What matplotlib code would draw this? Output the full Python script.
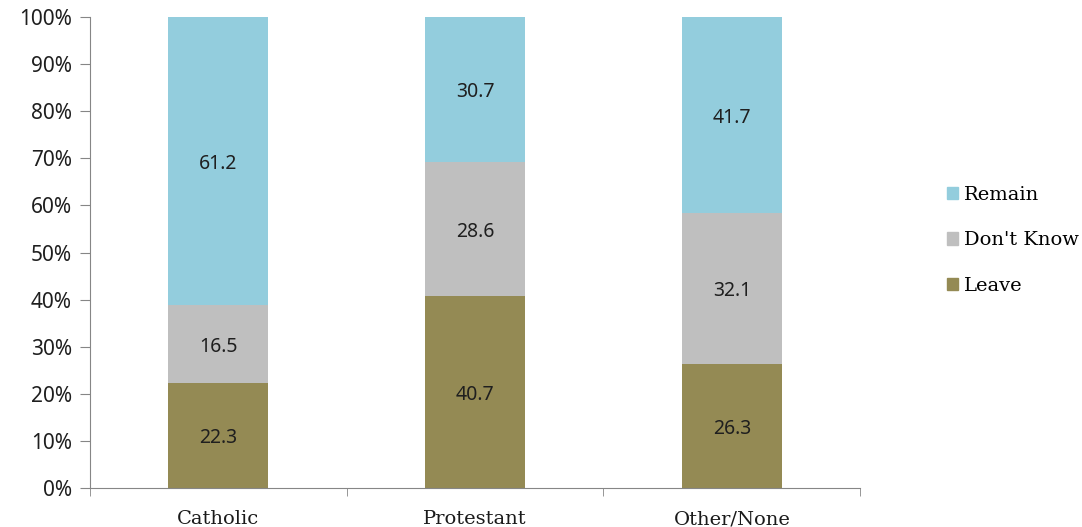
import matplotlib
matplotlib.use("Agg")
import matplotlib.pyplot as plt
from matplotlib.patches import Patch
import numpy as np

categories = ["Catholic", "Protestant", "Other/None"]
leave = [22.3, 40.7, 26.3]
dont_know = [16.5, 28.6, 32.1]
remain = [61.2, 30.7, 41.7]
yticks = [0, 10, 20, 30, 40, 50, 60, 70, 80, 90, 100]

colors = {"Leave": "#948A54", "Don't Know": "#BFBFBF", "Remain": "#93CDDD"}
spine_color = "#868686"
sans = "Noto Sans"

fig = plt.figure(figsize=(10.82, 5.27), dpi=100)
ax = fig.add_axes([0.0832, 0.074, 0.7118, 0.8937])

x = np.arange(len(categories))
bottom = np.zeros(len(categories))
for name, vals in [("Leave", leave), ("Don't Know", dont_know), ("Remain", remain)]:
    vals = np.array(vals)
    # clip so stacks end at 100%
    heights = np.minimum(vals, 100 - bottom)
    ax.bar(x, heights, width=0.39, bottom=bottom, color=colors[name], linewidth=0)
    for xi, b, h, v in zip(x, bottom, heights, vals):
        ax.text(xi, b + h / 2 - 0.6, f"{v:.1f}", ha="center", va="center",
                fontsize=14, family=sans, color="#1f1f1f")
    bottom = bottom + heights

ax.set_xlim(-0.5, len(categories) - 0.5)
ax.set_ylim(0, 100)
ax.set_yticks(yticks)
ax.set_yticklabels([f"{t}%" for t in yticks], family=sans, fontsize=15, color="#1f1f1f")
ax.set_xticks(x)
ax.set_xticklabels(categories, family="DejaVu Serif", fontsize=14, color="#1a1a1a")
ax.set_xticks(np.arange(len(categories) + 1) - 0.5, minor=True)
ax.tick_params(axis="x", which="major", length=0, pad=16)
ax.tick_params(axis="x", which="minor", length=6, color=spine_color, direction="out")
ax.tick_params(axis="y", length=7, color=spine_color, direction="out", pad=6)

for s in ["top", "right"]:
    ax.spines[s].set_visible(False)
for s in ["left", "bottom"]:
    ax.spines[s].set_color(spine_color)

handles = [Patch(color=colors[n]) for n in ["Remain", "Don't Know", "Leave"]]
fig.legend(handles, ["Remain", "Don't Know", "Leave"], loc="center left",
           bbox_to_anchor=(0.875, 0.544), frameon=False,
           prop={"family": "DejaVu Serif", "size": 14},
           handlelength=0.6, handleheight=0.6, handletextpad=0.3, labelspacing=1.4,
           borderpad=0, borderaxespad=0)

fig.savefig("out.png", dpi=100)
